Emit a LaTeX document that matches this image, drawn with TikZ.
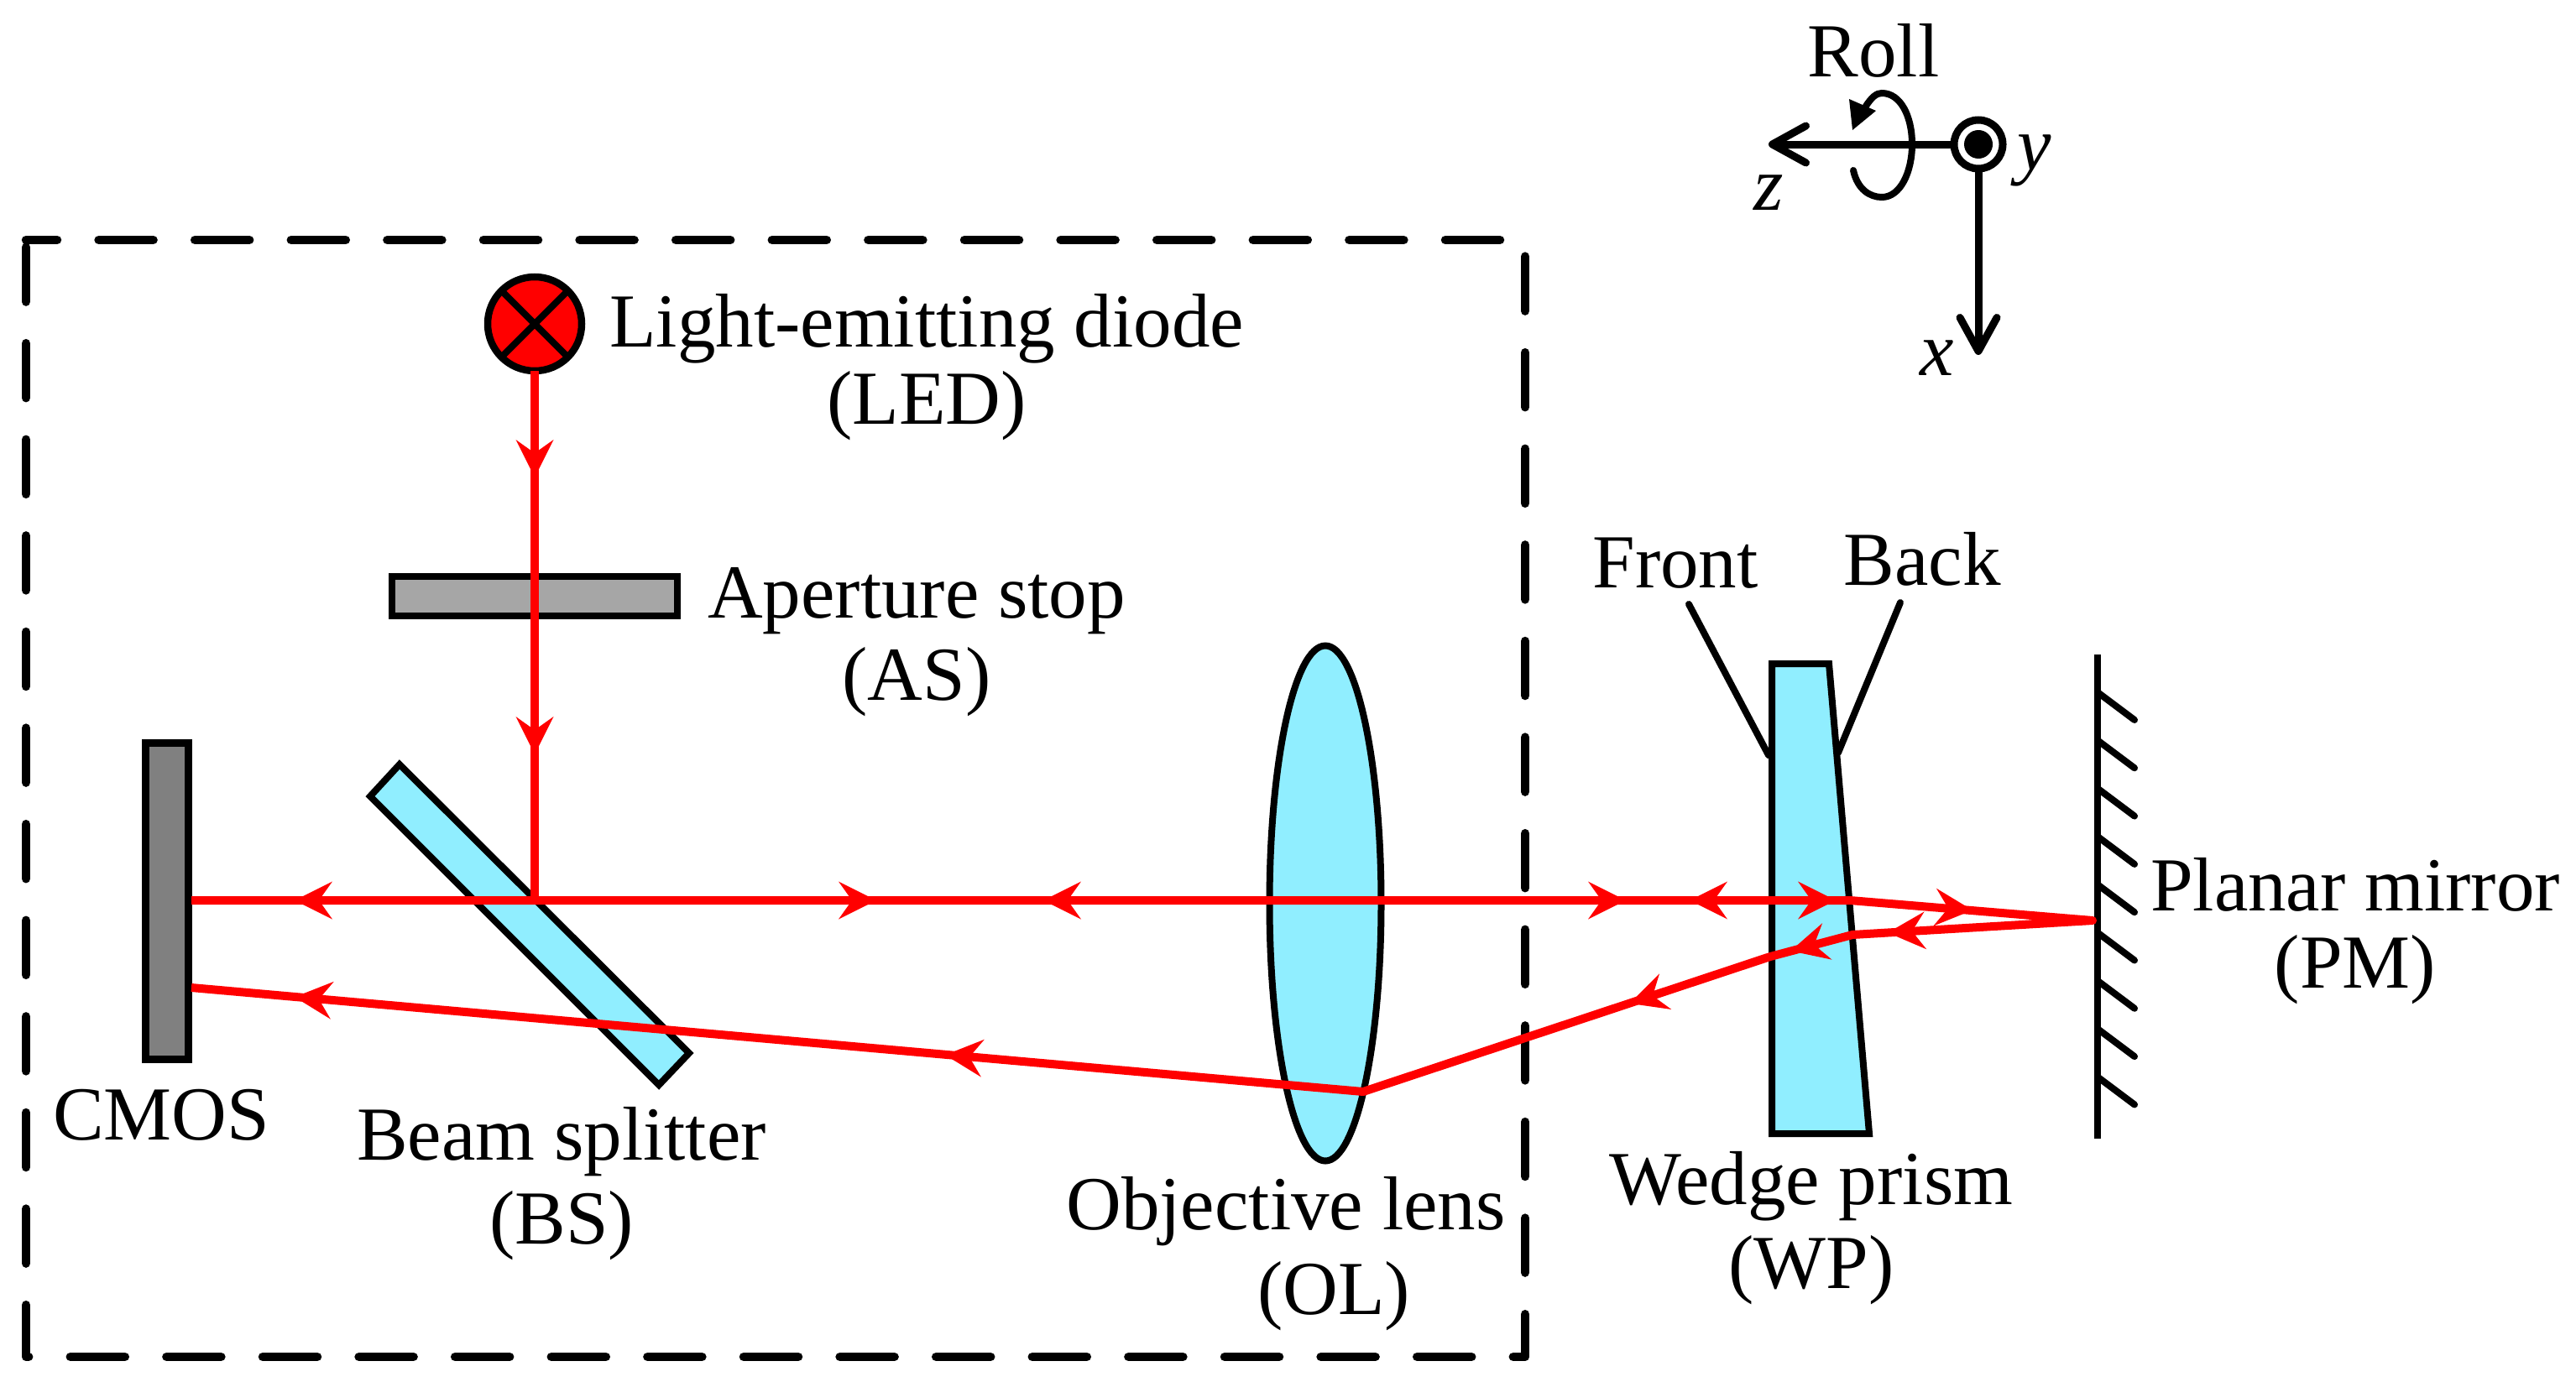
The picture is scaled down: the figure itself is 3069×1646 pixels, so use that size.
\documentclass[tikz,border=0pt]{standalone}
\usepackage{fontspec}
\setmainfont{Liberation Serif}
\usetikzlibrary{calc}
\usetikzlibrary{arrows.meta}
\definecolor{glass}{HTML}{90EEFF}
\definecolor{stopgray}{HTML}{A6A6A6}
\definecolor{cmosgray}{HTML}{808080}
\definecolor{rayred}{HTML}{FF0000}
\tikzset{
  x=1pt,y=-1pt,
  label text/.style={inner sep=0pt,outer sep=0pt,anchor=base,align=center,text=black,font=\fontsize{91}{98}\selectfont},
  optic/.style={draw=black,line width=8pt,line join=miter},
  glasspart/.style={optic,fill=glass},
  framebox/.style={draw=black,line width=10.5pt,line cap=round,line join=round,dash pattern=on 65pt off 49.6pt,dash phase=28pt},
  rayline/.style={draw=rayred,line width=10pt,line join=round},
  thinblack/.style={draw=black,line width=8pt,line cap=round},
  axisline/.style={draw=black,line width=9pt},
  barb/.style={-{Straight Barb[length=40pt,width=44pt,line width=9pt,round]}},
}
% arrowhead on a ray: #1 = point behind the head on the ray, #2 = where the head merges into the ray
\newcommand{\headat}[2]{\fill[rayred] ($(#2)!-9pt!(#1)$) -- ($(#2)!36pt!(#1)!22.5pt!90:(#2)$) -- ($(#2)!20pt!(#1)$) -- ($(#2)!36pt!(#1)!22.5pt!-90:(#2)$) -- cycle;}
\begin{document}
\begin{tikzpicture}
\useasboundingbox (0,0) rectangle (3069,1646);
% frame
\draw[framebox] (31,286) -- (1817,286) -- (1817,1617) -- (31,1617) -- (31,292);
% optics
\draw[optic,fill=cmosgray,line width=9pt] (173,885) rectangle (224,1262);
\draw[glasspart] (476,911) -- (441,949) -- (785,1293) -- (821,1255) -- cycle;
\draw[glasspart] (1579,1076.5) ellipse [x radius=66.5,y radius=307];
\draw[glasspart] (2111,791) -- (2179,791) -- (2227,1351) -- (2111,1351) -- cycle;
\draw[optic,fill=stopgray] (467,687) rectangle (807,734);
% mirror
\coordinate (mt) at (2499,780);
\coordinate (mb) at (2499,1357);
\draw[draw=black,line width=8.5pt] (mt) -- (mb);
\foreach \k in {0,...,8}{
  \pgfmathsetmacro{\yy}{825+57.3*\k}
  \draw[thinblack] (2499,\yy) -- ++(44,33);
}
% leaders
\coordinate (fa) at (2012,720); \coordinate (fb) at (2107,900);
\coordinate (ba) at (2264,718); \coordinate (bb) at (2190,897);
\draw[thinblack] (fa) -- (fb);
\draw[thinblack] (ba) -- (bb);
% LED
\node[circle,draw=black,fill=rayred,line width=8.5pt,minimum size=112pt,inner sep=0pt,outer sep=0pt] (led) at (637,386) {};
\draw[draw=black,line width=8pt] (led.45) -- (led.225);
\draw[draw=black,line width=8pt] (led.135) -- (led.315);
% rays
\coordinate (S) at (637,1073);
\coordinate (C1) at (228,1073);
\coordinate (W1) at (2204,1073);
\coordinate (M) at (2493,1097);
\coordinate (W2) at (2207,1114);
\coordinate (W3) at (2109,1140);
\coordinate (L) at (1624,1301);
\coordinate (C2) at (228,1177);
\draw[rayline] (led.south) -- (S);
\draw[rayline] (C1) -- (W1) -- (M) -- (W2) -- (W3) -- (L) -- (C2);
\headat{led.south}{637,560}
\headat{led.south}{637,890}
\headat{W1}{360,1073}
\headat{W1}{1252,1073}
\headat{W1}{2022,1073}
\headat{C1}{1035,1073}
\headat{C1}{1928,1073}
\headat{C1}{2178,1073}
\headat{W1}{2341,1084}
\headat{M}{2258,1111}
\headat{W2}{2142,1131}
\headat{W3}{1950,1193}
\headat{L}{1135,1258}
\headat{L}{360,1189}
% axes
\node[circle,draw=black,fill=white,line width=9pt,minimum size=58pt,inner sep=0pt,outer sep=0pt] (axo) at (2357,172) {};
\node[circle,fill=black,minimum size=34pt,inner sep=0pt] (axd) at (axo) {};
\coordinate (zt) at (2107,172);
\coordinate (xt) at (2357,423);
\draw[axisline,barb] (axo.west) -- (zt);
\draw[axisline,barb] (axo.south) -- (xt);
\draw[axisline,line width=8pt,line cap=round] (2208,203) .. controls (2213,226) and (2228,235) .. (2242,235)
  .. controls (2264,235) and (2278,205) .. (2278,172)
  .. controls (2278,138) and (2264,111) .. (2242,111)
  .. controls (2236,111) and (2230,115) .. (2222,128);
\fill[black] (2203,118) -- (2207,155) -- (2235,132) -- cycle;
% labels
\node[label text] (tled) at (1104,505) {Light-emitting diode\\[-6pt](LED)};
\node[label text] (tas) at (1092,834) {Aperture stop\\(AS)};
\node[label text] (tcmos) at (192,1358) {CMOS};
\node[label text] (tbs) at (669,1482) {Beam splitter\\[2pt](BS)};
\node[label text] (tol) at (1532,1566) {Objective lens\\[3pt]\hspace*{114pt}(OL)};
\node[label text] (twp) at (2158,1535) {Wedge prism\\[2pt](WP)};
\node[label text] (tpm) at (2806,1177) {Planar mirror\\[-6pt](PM)};
\node[label text] (tfr) at (1996,700) {Front};
\node[label text] (tbk) at (2290,697) {Back};
\node[label text] (trl) at (2232,92) {Roll};
\node[label text] (tz) at (2107,250) {\textit{z}};
\node[label text] (ty) at (2424,202) {\textit{y}};
\node[label text] (tx) at (2308,447) {\textit{x}};
\end{tikzpicture}
\end{document}
